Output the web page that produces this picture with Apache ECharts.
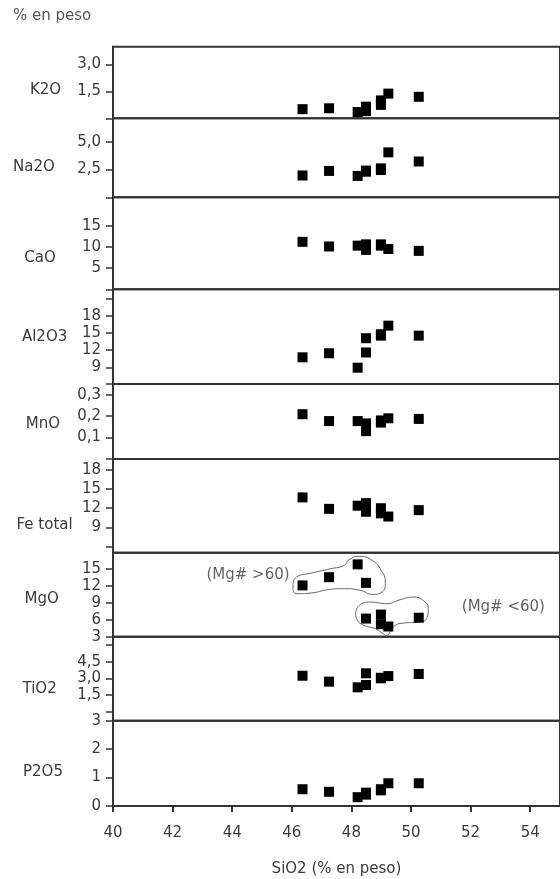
<!DOCTYPE html>
<html>
<head>
<meta charset="utf-8">
<script src="https://cdn.jsdelivr.net/npm/echarts@6/dist/echarts.min.js"></script>
<style>
html,body{margin:0;padding:0;background:#fff;}
#chart{width:560px;height:879px;}
</style>
</head>
<body>
<div id="chart"></div>
<script>
// ---- data ----
const siO2  = [46.36, 47.25, 48.21, 48.49, 48.49, 48.99, 48.99, 49.24, 50.26];
const k2o   = [0.51, 0.56, 0.35, 0.65, 0.40, 1.00, 0.75, 1.38, 1.20];
const na2o  = [1.96, 2.37, 1.92, 2.40, 2.30, 2.60, 2.45, 4.04, 3.22];
const cao   = [11.2, 10.1, 10.3, 10.6, 9.3, 10.6, 10.3, 9.5, 9.06];
const al2o3 = [10.75, 11.46, 8.93, 14.1, 11.6, 14.55, 14.8, 16.3, 14.55];
const mno   = [0.209, 0.177, 0.177, 0.166, 0.130, 0.180, 0.170, 0.190, 0.187];
const feTot = [13.7, 11.9, 12.4, 12.8, 11.45, 12.0, 11.2, 10.7, 11.7];
const mgo   = [12.05, 13.5, 15.76, 12.5, 6.2, 6.9, 5.2, 4.8, 6.35];
const tio2  = [3.23, 2.70, 2.19, 3.45, 2.40, 3.05, 3.00, 3.20, 3.39];
const p2o5  = [0.59, 0.50, 0.31, 0.47, 0.40, 0.59, 0.55, 0.80, 0.80];

const panelNames = ['K2O', 'Na2O', 'CaO', 'Al2O3', 'MnO', 'Fe total', 'MgO', 'TiO2', 'P2O5'];

// tick positions and labelled ticks for each panel
const k2oTicks   = [0, 1.5, 3.0];           const k2oLabels   = [1.5, 3.0];
const na2oTicks  = [0, 2.5, 5.0];           const na2oLabels  = [2.5, 5.0];
const caoTicks   = [0, 5, 10, 15];          const caoLabels   = [5, 10, 15];
const al2o3Ticks = [6.07, 9, 12, 15, 18, 21]; const al2o3Labels = [9, 12, 15, 18];
const mnoTicks   = [0, 0.1, 0.2, 0.3];      const mnoLabels   = [0.1, 0.2, 0.3];
const feTicks    = [5, 6, 9, 12, 15, 18];   const feLabels    = [9, 12, 15, 18];
const mgoTicks   = [3, 6, 9, 12, 15];       const mgoLabels   = [3, 6, 9, 12, 15];
const tio2Ticks  = [-0.81, 0, 1.5, 3.0, 4.5, 6.0]; const tio2Labels = [1.5, 3.0, 4.5];
const p2o5Ticks  = [0, 1, 2, 3];            const p2o5Labels  = [0, 1, 2, 3];

const xTicks = [40, 42, 44, 46, 48, 50, 52, 54];

// Mg# group outlines (SiO2, MgO)
const outlineHigh = [[46.04,12.35],[46.15,13.52],[46.65,14.22],[47.31,15.0],[47.76,15.58],[47.92,16.59],[48.26,17.17],[48.70,16.46],[49.0,14.7],[49.14,12.64],[49.03,10.87],[48.70,10.46],[48.31,11.17],[47.76,11.47],[47.21,11.29],[46.65,10.7],[46.21,10.59],[46.04,11.17],[46.04,12.35]];
const outlineLow = [[48.14,7.06],[48.26,8.52],[48.64,9.11],[49.19,8.82],[49.64,9.53],[50.08,9.99],[50.41,9.41],[50.58,7.94],[50.52,6.18],[50.25,5.58],[49.75,5.4],[49.47,5.0],[49.30,3.81],[49.19,3.23],[49.03,3.64],[48.81,4.41],[48.42,5.0],[48.20,5.88],[48.14,7.06]];
const groupLabels = [{text: '(Mg# >60)', at: [44.53, 13.8]}, {text: '(Mg# <60)', at: [53.1, 8.2]}];

// ---- layout / styles ----
const FONT = 'DejaVu Sans';
const TXT = '#3a3a3a';
const LINE = '#333';
const FS = 15;
const plotLeft = 113, plotWidth = 452;
const bounds = [46.7, 118.3, 197.3, 289.3, 384, 459, 552.7, 636.7, 720.7, 806];
const axisRanges = [[0, 4.0], [0, 7.1], [0, 21.7], [6.07, 22.68], [0, 0.35], [5.02, 19.73], [3, 17.82], [-0.81, 6.74], [0, 3]];
const tickSets = [k2oTicks, na2oTicks, caoTicks, al2o3Ticks, mnoTicks, feTicks, mgoTicks, tio2Ticks, p2o5Ticks];
const labelSets = [k2oLabels, na2oLabels, caoLabels, al2o3Labels, mnoLabels, feLabels, mgoLabels, tio2Labels, p2o5Labels];
const decimals = [1, 1, 0, 0, 1, 0, 0, 1, 0];
const valueSets = [k2o, na2o, cao, al2o3, mno, feTot, mgo, tio2, p2o5];
// panel-name text centres (pixels)
const nameX = [45.5, 34, 40, 44.6, 43, 44.6, 41.6, 39.6, 43];
const nameY = [90, 166.7, 258.3, 336.7, 424, 525, 599, 689.3, 771.7];

const grids = [], xAxes = [], yAxes = [], series = [], graphics = [];
for (let i = 0; i < 9; i++) {
  const top = bounds[i], h = bounds[i + 1] - bounds[i];
  grids.push({left: plotLeft, width: plotWidth, top: top, height: h, show: true,
    borderColor: LINE, borderWidth: 2, backgroundColor: 'transparent', containLabel: false});
  const isLast = i === 8;
  xAxes.push({
    gridIndex: i, type: 'value', min: 40, max: 55, show: isLast,
    axisLine: {show: true, onZero: false, lineStyle: {color: LINE, width: 2}},
    axisTick: {show: true, inside: false, length: 6, customValues: xTicks, lineStyle: {color: LINE, width: 2}},
    axisLabel: {customValues: xTicks, margin: 20, fontSize: FS, color: TXT, fontFamily: FONT},
    splitLine: {show: false},
    name: isLast ? 'SiO2 (% en peso)' : '', nameLocation: 'middle', nameGap: 56,
    nameTextStyle: {fontSize: FS, color: TXT, fontFamily: FONT}
  });
  const dec = decimals[i];
  yAxes.push({
    gridIndex: i, type: 'value', min: axisRanges[i][0], max: axisRanges[i][1],
    axisLine: {show: true, onZero: false, lineStyle: {color: LINE, width: 2}},
    axisTick: {show: true, inside: false, length: 7, customValues: tickSets[i], lineStyle: {color: LINE, width: 1.5}},
    axisLabel: {customValues: labelSets[i], margin: 12, fontSize: FS, color: TXT, fontFamily: FONT,
      formatter: v => Number(v).toFixed(dec).replace('.', ',')},
    splitLine: {show: false}
  });
  series.push({
    type: 'scatter', xAxisIndex: i, yAxisIndex: i,
    symbol: 'rect', symbolSize: 10,
    itemStyle: {color: '#000', opacity: 1},
    data: siO2.map((s, k) => [s, valueSets[i][k]]),
    z: 5
  });
  graphics.push({type: 'text', x: nameX[i], y: nameY[i], silent: true,
    style: {text: panelNames[i], align: 'center', verticalAlign: 'middle', textAlign: 'center', textVerticalAlign: 'middle',
      fill: TXT, font: FS + 'px "' + FONT + '"'}});
}
// outlines around Mg# groups in the MgO panel
[outlineHigh, outlineLow].forEach(o => series.push({
  type: 'line', xAxisIndex: 6, yAxisIndex: 6, data: o, smooth: 0.5, symbol: 'none',
  lineStyle: {color: '#666', width: 1}, z: 3, silent: true
}));
series.push({
  type: 'scatter', xAxisIndex: 6, yAxisIndex: 6, symbolSize: 0, silent: true,
  data: groupLabels.map(g => ({value: g.at, name: g.text})),
  label: {show: true, position: 'inside', formatter: p => p.name, fontSize: FS, color: TXT, fontFamily: FONT}
});

const chart = echarts.init(document.getElementById('chart'), null, {renderer: 'canvas'});
chart.setOption({
  animation: false,
  backgroundColor: '#fff',
  title: {text: '% en peso', left: 8, top: 4, textStyle: {fontSize: 15, fontWeight: 'normal', color: '#555', fontFamily: FONT}},
  grid: grids, xAxis: xAxes, yAxis: yAxes, series: series, graphic: graphics
});
</script>
</body>
</html>
